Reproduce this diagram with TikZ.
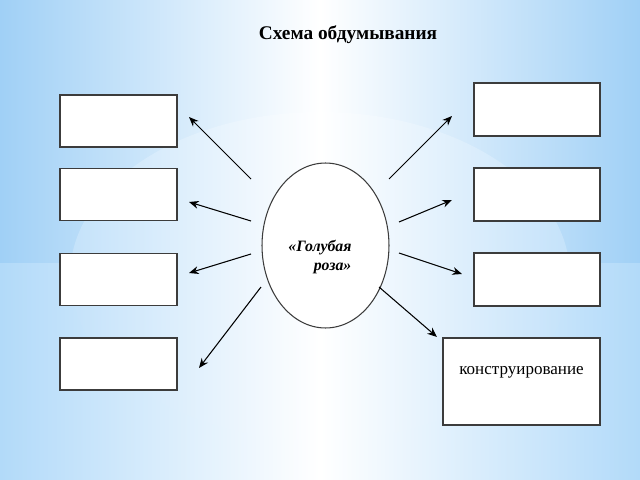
\documentclass[tikz,border=0pt]{standalone}
\usepackage{fontspec}
\setmainfont{Liberation Serif}
\usetikzlibrary{arrows.meta,shapes.geometric}
\definecolor{bgblue}{RGB}{160,208,246}
\definecolor{bgblue2}{RGB}{178,218,249}
\definecolor{glowedge}{RGB}{196,226,250}
\definecolor{framegray}{RGB}{60,60,60}
\begin{document}
\begin{tikzpicture}[x=0.02cm,y=-0.02cm,
  box/.style={draw=framegray,fill=white,line width=0.6pt,inner sep=0pt},
  lbox/.style={box,minimum width=2.34cm,minimum height=1.04cm},
  rbox/.style={box,minimum width=2.52cm,minimum height=1.06cm},
  arr/.style={draw=black,line width=0.6pt,-{Stealth[length=5.5pt,width=4.5pt]}}]
\useasboundingbox (0,0) rectangle (640,480);
% background
\shade[left color=bgblue,right color=bgblue,middle color=white] (0,0) rectangle (640,263);
\shade[left color=bgblue2,right color=bgblue2,middle color=white] (0,263) rectangle (640,480);
\shade[left color=glowedge,right color=glowedge,middle color=white] (320,276) ellipse [x radius=250,y radius=164];
% title
\node[font=\bfseries\fontsize{11}{13}\selectfont] (title) at (348,35) {Схема обдумывания};
% centre
\node[draw=framegray,fill=white,ellipse,line width=0.6pt,inner sep=0pt,minimum width=2.54cm,minimum height=3.3cm] (rose) at (325.5,245.5) {};
\node[font=\bfseries\itshape\fontsize{9}{11.3}\selectfont,align=left,inner sep=0pt] (rosetext) at (320,257) {«Голубая\\\hspace{1.6em}роза»};
% left boxes
\node[lbox] (l1) at (118.5,121) {};
\node[lbox] (l2) at (118.5,194.5) {};
\node[lbox] (l3) at (118.5,279.5) {};
\node[lbox] (l4) at (118.5,364) {};
% right boxes
\node[rbox] (r1) at (537,109.5) {};
\node[rbox] (r2) at (537,194.5) {};
\node[rbox] (r3) at (537,279.5) {};
\node[box,minimum width=3.14cm,minimum height=1.74cm,
  label={[font=\fontsize{9.7}{12}\selectfont,yshift=0.19cm]center:конструирование}] (r4) at (521.5,381.5) {};
% arrow end points
\coordinate (sl1) at (251,179); \coordinate (el1) at (189,117);
\coordinate (sl2) at (251,221); \coordinate (el2) at (189,202);
\coordinate (sl3) at (251,254); \coordinate (el3) at (189,273);
\coordinate (sl4) at (261,287); \coordinate (el4) at (199,368);
\coordinate (sr1) at (389,179); \coordinate (er1) at (452,116);
\coordinate (sr2) at (399,222); \coordinate (er2) at (452,200);
\coordinate (sr3) at (399,253); \coordinate (er3) at (462,274);
\coordinate (sr4) at (379,287); \coordinate (er4) at (437,337);
\draw[arr] (sl1) -- (el1);
\draw[arr] (sl2) -- (el2);
\draw[arr] (sl3) -- (el3);
\draw[arr] (sl4) -- (el4);
\draw[arr] (sr1) -- (er1);
\draw[arr] (sr2) -- (er2);
\draw[arr] (sr3) -- (er3);
\draw[arr] (sr4) -- (er4);
\end{tikzpicture}
\end{document}
